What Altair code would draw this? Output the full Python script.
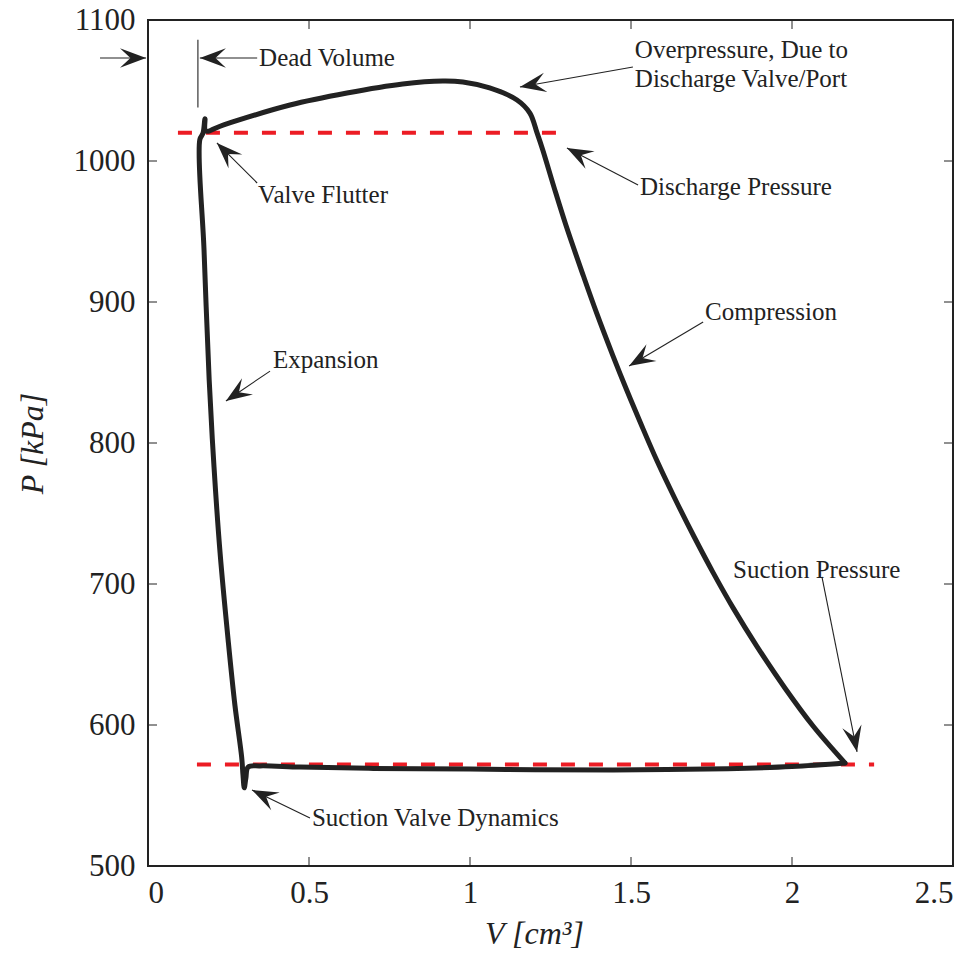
import math
import altair as alt
import pandas as pd

# ---------------- data ----------------
# P-V cycle (compression -> discharge -> expansion -> suction)
V_cycle = [2.165, 2.066, 1.979, 1.891, 1.818, 1.755, 1.696, 1.637, 1.581, 1.530,
           1.486, 1.444, 1.394, 1.352, 1.298, 1.261, 1.226, 1.208,
           1.186, 1.146, 1.061, 0.978, 0.916, 0.791, 0.618, 0.441, 0.233, 0.180,
           0.177, 0.171, 0.161,
           0.174, 0.190, 0.205, 0.224, 0.249, 0.270, 0.291,
           0.295, 0.299, 0.304, 0.311,
           0.348, 0.472, 0.700, 1.000, 1.200, 1.444, 1.800, 2.000, 2.165]
P_cycle = [573.0, 599.1, 625.9, 655.8, 682.7, 708.1, 733.5, 760.3, 787.2, 814.0,
           837.9, 861.8, 891.7, 918.6, 954.4, 981.3, 1007.8, 1020.1,
           1034.0, 1043.3, 1051.8, 1056.0, 1056.7, 1054.6, 1048.2, 1039.7, 1025.5, 1021.3,
           1030.0, 1019.8, 1015.2,
           936.9, 844.7, 783.0, 721.6, 660.0, 613.9, 577.0,
           564.5, 555.5, 562.4, 570.2,
           571.0, 570.2, 569.2, 568.8, 568.2, 568.1, 569.0, 570.5, 573.0]

P_discharge = 1020
V_discharge = [0.093, 1.30]
P_suction = 572
V_suction = [0.152, 2.255]

x_ticks = [0, 0.5, 1, 1.5, 2, 2.5]
y_ticks = [500, 600, 700, 800, 900, 1000, 1100]

dead_V = 0.155
dead_P = [1038, 1086]

arrow_tail_V = [-0.149, 0.339, 0.339, 0.379, 1.506, 1.522, 1.724, 2.093, 0.503]
arrow_tail_P = [1073.0, 1073.0, 984.4, 851.0, 1066.7, 983.0, 885.8, 705.0, 534.0]
arrow_tip_V = [-0.006, 0.161, 0.214, 0.242, 1.155, 1.301, 1.494, 2.202, 0.323]
arrow_tip_P = [1073.0, 1073.0, 1012.8, 829.8, 1052.5, 1009.2, 854.6, 580.9, 553.9]

label_text = ["Dead Volume", "Valve Flutter", "Expansion", "Overpressure, Due to",
              "Discharge Valve/Port", "Discharge Pressure", "Compression",
              "Suction Pressure", "Suction Valve Dynamics"]
label_V = [0.345, 0.342, 0.388, 1.512, 1.512, 1.528, 1.730, 1.817, 0.509]
label_P = [1073.0, 975.9, 858.9, 1078.7, 1058.2, 981.6, 892.9, 710.0, 534.0]

# ---------------- layout ----------------
W, H = 805, 846
XDOM = [0, 2.5]
YDOM = [500, 1100]
INK = "#222222"
RED = "#ec1c24"
FONT = "Liberation Serif"

xs = alt.Scale(domain=XDOM, nice=False, zero=False)
ys = alt.Scale(domain=YDOM, nice=False, zero=False)

px_per_V = W / (XDOM[1] - XDOM[0])
px_per_P = H / (YDOM[1] - YDOM[0])

cycle_df = pd.DataFrame({"V": V_cycle, "P": P_cycle, "o": range(len(V_cycle))})
ref_df = pd.DataFrame({
    "V": [V_discharge[0], V_suction[0]],
    "V2": [V_discharge[1], V_suction[1]],
    "P": [P_discharge, P_suction],
})
angles = []
for tv, tp, hv, hp in zip(arrow_tail_V, arrow_tail_P, arrow_tip_V, arrow_tip_P):
    dx = (hv - tv) * px_per_V
    dy = -(hp - tp) * px_per_P
    angles.append(math.degrees(math.atan2(dy, dx)) % 360)
arrow_df = pd.DataFrame({"V": arrow_tail_V, "P": arrow_tail_P,
                         "V2": arrow_tip_V, "P2": arrow_tip_P, "angle": angles})
label_df = pd.DataFrame({"t": label_text, "V": label_V, "P": label_P})
dead_df = pd.DataFrame({"V": [dead_V], "P": [dead_P[0]], "P2": [dead_P[1]]})

x_axis = alt.Axis(values=x_ticks, format="~g", ticks=False, domain=False, grid=False,
                  labelFont=FONT, labelFontSize=31, labelColor=INK, labelPadding=12,
                  title="V [cm³]", titleFont=FONT, titleFontStyle="italic",
                  titleFontWeight="normal", titleFontSize=32, titleColor=INK,
                  titlePadding=10, titleX=386)
y_axis = alt.Axis(values=y_ticks, format="d", ticks=False, domain=False, grid=False,
                  labelFont=FONT, labelFontSize=31, labelColor=INK, labelPadding=13,
                  title="P [kPa]", titleFont=FONT, titleFontStyle="italic",
                  titleFontWeight="normal", titleFontSize=32, titleColor=INK,
                  titlePadding=24)

base_cycle = alt.Chart(cycle_df).mark_line(
    color=INK, strokeWidth=5, strokeCap="round", strokeJoin="round",
    interpolate="catmull-rom"
).encode(
    x=alt.X("V:Q", scale=xs, axis=x_axis),
    y=alt.Y("P:Q", scale=ys, axis=y_axis),
    order="o:Q",
)

refs = alt.Chart(ref_df).mark_rule(color=RED, strokeWidth=4, strokeDash=[14, 14]).encode(
    x=alt.X("V:Q", scale=xs), x2="V2:Q", y=alt.Y("P:Q", scale=ys)
)

xt_df = pd.DataFrame({"v": x_ticks})
yt_df = pd.DataFrame({"v": y_ticks})
tick_bot = alt.Chart(xt_df).mark_rule(color=INK, strokeWidth=1).encode(
    x=alt.X("v:Q", scale=xs), y=alt.value(H), y2=alt.value(H - 9))
tick_top = alt.Chart(xt_df).mark_rule(color=INK, strokeWidth=1).encode(
    x=alt.X("v:Q", scale=xs), y=alt.value(0), y2=alt.value(9))
tick_left = alt.Chart(yt_df).mark_rule(color=INK, strokeWidth=1).encode(
    y=alt.Y("v:Q", scale=ys), x=alt.value(0), x2=alt.value(9))
tick_right = alt.Chart(yt_df).mark_rule(color=INK, strokeWidth=1).encode(
    y=alt.Y("v:Q", scale=ys), x=alt.value(W), x2=alt.value(W - 9))

arrow_lines = alt.Chart(arrow_df).mark_rule(color=INK, strokeWidth=1.1).encode(
    x=alt.X("V:Q", scale=xs), y=alt.Y("P:Q", scale=ys), x2="V2:Q", y2="P2:Q"
)
HEAD = "M0,0 L-2,-0.75 L-1.2,0 L-2,0.75 Z"
arrow_heads = alt.Chart(arrow_df).mark_point(
    shape=HEAD, filled=True, size=680, color=INK, opacity=1, strokeWidth=0
).encode(
    x=alt.X("V2:Q", scale=xs), y=alt.Y("P2:Q", scale=ys),
    angle=alt.Angle("angle:Q", scale=None),
)
dead_line = alt.Chart(dead_df).mark_rule(color=INK, strokeWidth=1.1).encode(
    x=alt.X("V:Q", scale=xs), y=alt.Y("P:Q", scale=ys), y2="P2:Q"
)
labels = alt.Chart(label_df).mark_text(
    align="left", baseline="middle", font=FONT, fontSize=25, color=INK
).encode(
    x=alt.X("V:Q", scale=xs), y=alt.Y("P:Q", scale=ys), text="t:N"
)

chart = alt.layer(
    refs, base_cycle, tick_bot, tick_top, tick_left, tick_right,
    dead_line, arrow_lines, arrow_heads, labels
).properties(
    width=W, height=H,
    autosize="none",
    padding={"left": 140, "top": 12, "right": 14, "bottom": 84},
    background="white",
).configure_view(stroke=INK, strokeWidth=2)

chart.save("out.html", embed_options={"renderer": "svg", "actions": False})
